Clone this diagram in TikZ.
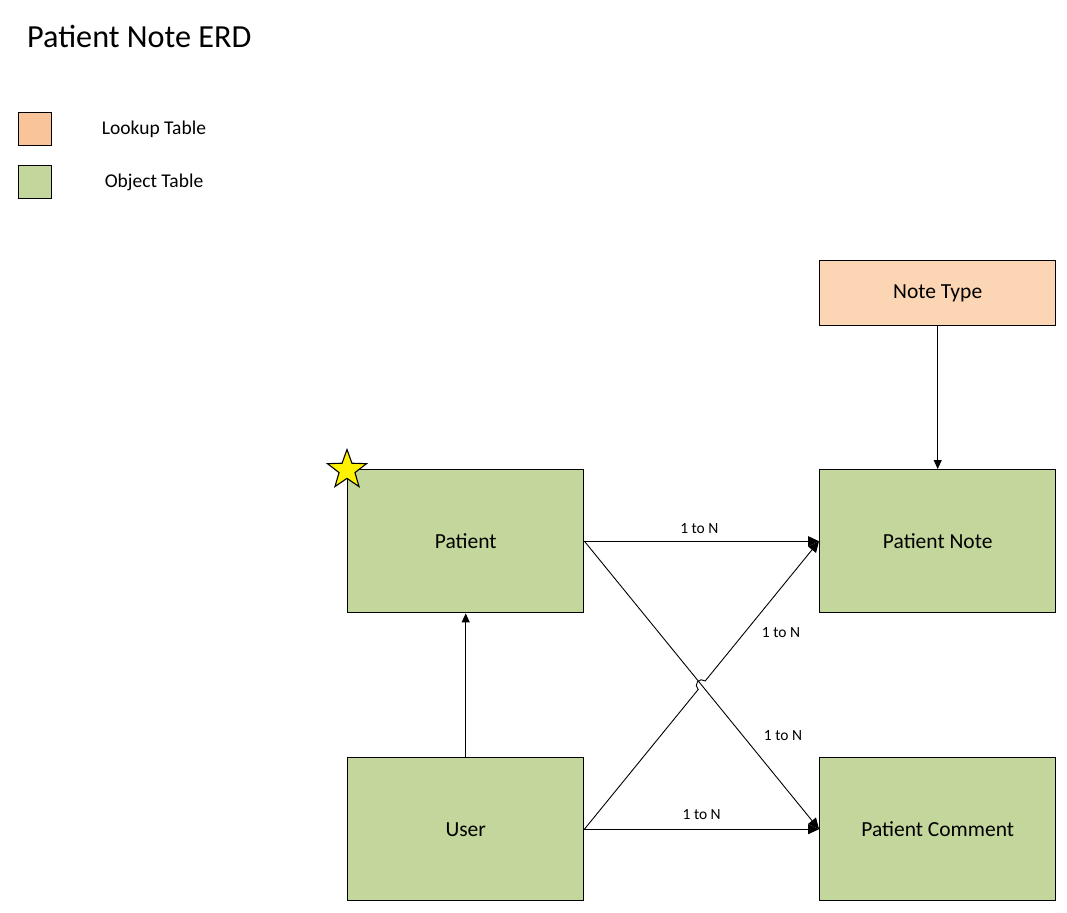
\documentclass[tikz,border=0pt]{standalone}
\usepackage{fontspec}
\setmainfont{Carlito}
\usetikzlibrary{arrows.meta,shapes.geometric,intersections,calc}
\definecolor{objgreen}{HTML}{C3D69B}
\definecolor{lookpeach}{HTML}{FCD5B4}
\definecolor{legpeach}{HTML}{FAC49A}
\tikzset{
  table/.style={draw=black, line width=1.4pt, minimum width=236, minimum height=143, inner sep=0pt, font=\fontsize{21.5}{24}\selectfont, anchor=north west},
  legendbox/.style={draw=black, line width=1.4pt, minimum width=33, minimum height=33, inner sep=0pt, anchor=north west},
  legendlabel/.style={font=\fontsize{19.5}{22}\selectfont},
  conn/.style={draw=black, line width=0.9pt},
  bigtip/.style={-{Triangle[length=11,width=10]}},
  smalltip/.style={-{Triangle[length=9,width=8]}},
  rel/.style={font=\fontsize{15.5}{17}\selectfont, inner sep=1pt}
}
\begin{document}
\begin{tikzpicture}[x=1pt,y=-1pt]
\useasboundingbox (0,0) rectangle (1067,912);
\node[anchor=base west, font=\fontsize{32.2}{34}\selectfont, inner sep=0] (title) at (27,48) {Patient Note ERD};
\node[legendbox, fill=legpeach] (leg1) at (18,112) {};
\node[legendbox, fill=objgreen] (leg2) at (18,165) {};
\node[legendlabel] (leg1t) at (154,129) {Lookup Table};
\node[legendlabel] (leg2t) at (154,182) {Object Table};

\node[table, fill=lookpeach, minimum height=65] (ntype) at (819,260) {Note Type};
\node[table, fill=objgreen] (patient) at (347,469) {Patient};
\node[table, fill=objgreen] (pnote) at (819,469) {Patient Note};
\node[table, fill=objgreen] (user) at (347,757) {User};
\node[table, fill=objgreen] (pcomment) at (819,757) {Patient Comment};

\node[star, star points=5, star point ratio=2.45, minimum size=41, inner sep=0pt, draw=black, line width=1.1pt, fill=yellow] (star) at ($(patient.north west)+(0,1)$) {};

\draw[conn, smalltip] (ntype.south) -- (pnote.north);
\draw[conn, smalltip] (user.north) -- (patient.south);
\draw[conn, bigtip] (patient.east) -- node[rel, pos=0.49, yshift=13] (l1) {1 to N} (pnote.west);
\draw[conn, bigtip] (user.east) -- node[rel, pos=0.5, yshift=15] (l4) {1 to N} (pcomment.west);

\path[name path=pa] (patient.east) -- (pcomment.west);
\path[name path=pb] (user.east) -- (pnote.west);
\path[name intersections={of=pa and pb, by=X}];
\draw[conn, bigtip] (patient.east) -- (pcomment.west);
\draw[conn, bigtip] (user.east) -- ($(X)!5.5pt!(user.east)$) arc[start angle=129.33, end angle=309.33, radius=5.5] -- (pnote.west);

\node[rel] (l2) at (781,633) {1 to N};
\node[rel] (l3) at (783,736) {1 to N};
\end{tikzpicture}
\end{document}
